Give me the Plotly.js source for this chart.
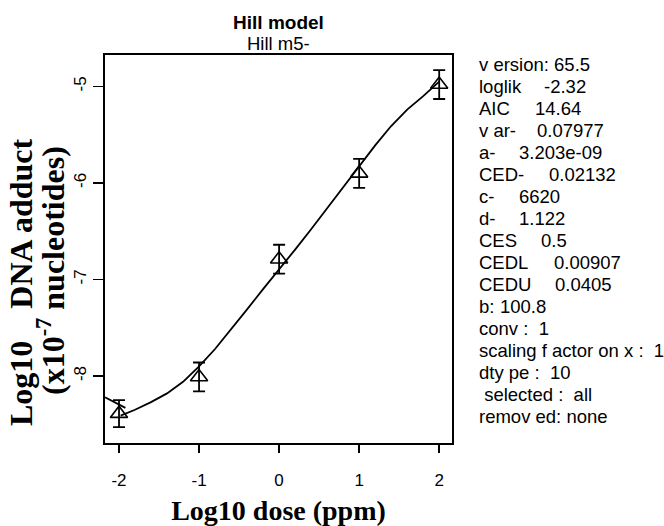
<!DOCTYPE html>
<html><head><meta charset="utf-8">
<script src="https://cdn.plot.ly/plotly-3.0.1.min.js"></script>
<style>html,body{margin:0;padding:0;background:#fff}</style>
</head><body><div id="chart" style="width:664px;height:526px"></div>
<script>
// observed data (log10 dose, log10 adduct) with error bar half-widths
const doseLog = [-2, -1, 0, 1, 2];
const adductLog = [-8.39, -8.01, -6.79, -5.90, -4.98];
const adductErr = [0.14, 0.15, 0.15, 0.15, 0.15];
// fitted Hill curve
const fitX = [-1.98, -1.9, -1.8, -1.6, -1.4, -1.2, -1.0, -0.8, -0.6, -0.4, -0.2, 0, 0.2, 0.4, 0.6, 0.8, 1.0, 1.2, 1.4, 1.6, 1.8, 1.9, 2.0];
const fitY = [-8.41, -8.385, -8.35, -8.27, -8.18, -8.06, -7.90, -7.72, -7.52, -7.31, -7.10, -6.90, -6.69, -6.48, -6.26, -6.04, -5.82, -5.61, -5.41, -5.24, -5.10, -5.03, -4.95];
// short curve piece at the left edge
const tailX = [-2.175, -2.05, -1.92];
const tailY = [-8.22, -8.27, -8.33];
const xTicks = [-2, -1, 0, 1, 2];
const yTicks = [-8, -7, -6, -5];
// fit summary panel: label / value pairs
const infoLabels = ['v ersion: 65.5', 'loglik', 'AIC', 'v ar-', 'a-', 'CED-', 'c-', 'd-', 'CES', 'CEDL',
  'CEDU', 'b:', 'conv :  1', 'scaling f actor on x :  1', 'dty pe :  10', ' selected :  all', 'remov ed: none'];
const infoValues = ['', '-2.32', '14.64', '0.07977', '3.203e-09', '0.02132', '6620', '1.122', '0.5', '0.00907',
  '0.0405', '100.8', '', '', '', '', ''];

// layout positions (pixels) for the panel
const panelLeft = 477, panelTop = 64, panelStep = 22.05;
const valueLeft = [0, 541.7, 533.3, 535, 516.7, 546.7, 516.7, 516.7, 539.3, 551.7, 553.3, 498.3, 0, 0, 0, 0, 0];

const nb = s => s.replace(/ /g, '\u00a0');
const sans = 'Liberation Sans, Arial, sans-serif';
const serif = 'Liberation Serif, Times New Roman, serif';
const L = 105, R = 452, T = 55, B = 443;
const px = v => (v - L) / (R - L);
const py = v => (B - v) / (B - T);

const traces = [
  {x: fitX, y: fitY, mode: 'lines', line: {color: '#000', width: 1.8}, hoverinfo: 'skip'},
  {x: tailX, y: tailY, mode: 'lines', line: {color: '#000', width: 1.8}, hoverinfo: 'skip'},
  {x: doseLog, y: adductLog, mode: 'markers',
   marker: {symbol: 'triangle-up-open', size: 15, color: '#000', line: {color: '#000', width: 1.6}},
   error_y: {type: 'data', array: adductErr, visible: true, color: '#000', thickness: 1.8, width: 6}}
];

const annotations = [];
infoLabels.forEach((lab, i) => {
  const y = py(panelTop + i * panelStep);
  annotations.push({xref: 'paper', yref: 'paper', x: px(panelLeft), y: y, xanchor: 'left', yanchor: 'middle',
    showarrow: false, text: nb(lab), font: {family: sans, size: 18.5, color: '#000'}});
  if (infoValues[i]) {
    annotations.push({xref: 'paper', yref: 'paper', x: px(valueLeft[i]), y: y, xanchor: 'left', yanchor: 'middle',
      showarrow: false, text: infoValues[i], font: {family: sans, size: 18.5, color: '#000'}});
  }
});
// subtitle
annotations.push({xref: 'paper', yref: 'paper', x: 0.5, y: py(43), xanchor: 'center', yanchor: 'middle',
  showarrow: false, text: 'Hill m5-', font: {family: sans, size: 18.5, color: '#000'}});
// y-axis title (two lines, rotated)
annotations.push({xref: 'paper', yref: 'paper', x: px(21), y: py(282), xanchor: 'center', yanchor: 'middle',
  showarrow: false, textangle: -90, text: '<b>Log10\u2003DNA adduct</b>',
  font: {family: serif, size: 32, color: '#000'}});
annotations.push({xref: 'paper', yref: 'paper', x: px(51), y: py(271), xanchor: 'center', yanchor: 'middle',
  showarrow: false, textangle: -90, text: '<b>(x10<sup>-7</sup> nucleotides)</b>',
  font: {family: serif, size: 32, color: '#000'}});

const layout = {
  width: 664, height: 526,
  margin: {l: L, r: 664 - R, t: T, b: 526 - B},
  paper_bgcolor: '#fff', plot_bgcolor: '#fff',
  showlegend: false,
  title: {
    text: '<b>Hill model</b>', x: 0.5, xref: 'paper', xanchor: 'center',
    y: 1 - 22.7/526, yref: 'container', yanchor: 'middle',
    font: {family: sans, size: 19, color: '#000'}
  },
  xaxis: {
    range: [-2.175, 2.16], tickvals: xTicks, ticktext: xTicks.map(String),
    ticks: 'outside', ticklen: 8, tickwidth: 1.8, tickcolor: '#000',
    showline: true, linewidth: 2, linecolor: '#000', mirror: true,
    showgrid: false, zeroline: false, ticklabelstandoff: 13,
    tickfont: {family: sans, size: 17, color: '#000'},
    title: {text: '<b>Log10 dose (ppm)</b>', font: {family: serif, size: 28, color: '#000'}, standoff: 16}
  },
  yaxis: {
    range: [-8.694, -4.674], tickvals: yTicks, ticktext: yTicks.map(String),
    ticks: 'outside', ticklen: 10, tickwidth: 1.8, tickcolor: '#000',
    showline: true, linewidth: 2, linecolor: '#000', mirror: true,
    showgrid: false, zeroline: false, tickangle: -90, ticklabelstandoff: 0,
    tickfont: {family: sans, size: 17, color: '#000'}
  },
  annotations: annotations
};

Plotly.newPlot('chart', traces, layout, {displayModeBar: false, staticPlot: true});
</script>
</body></html>
